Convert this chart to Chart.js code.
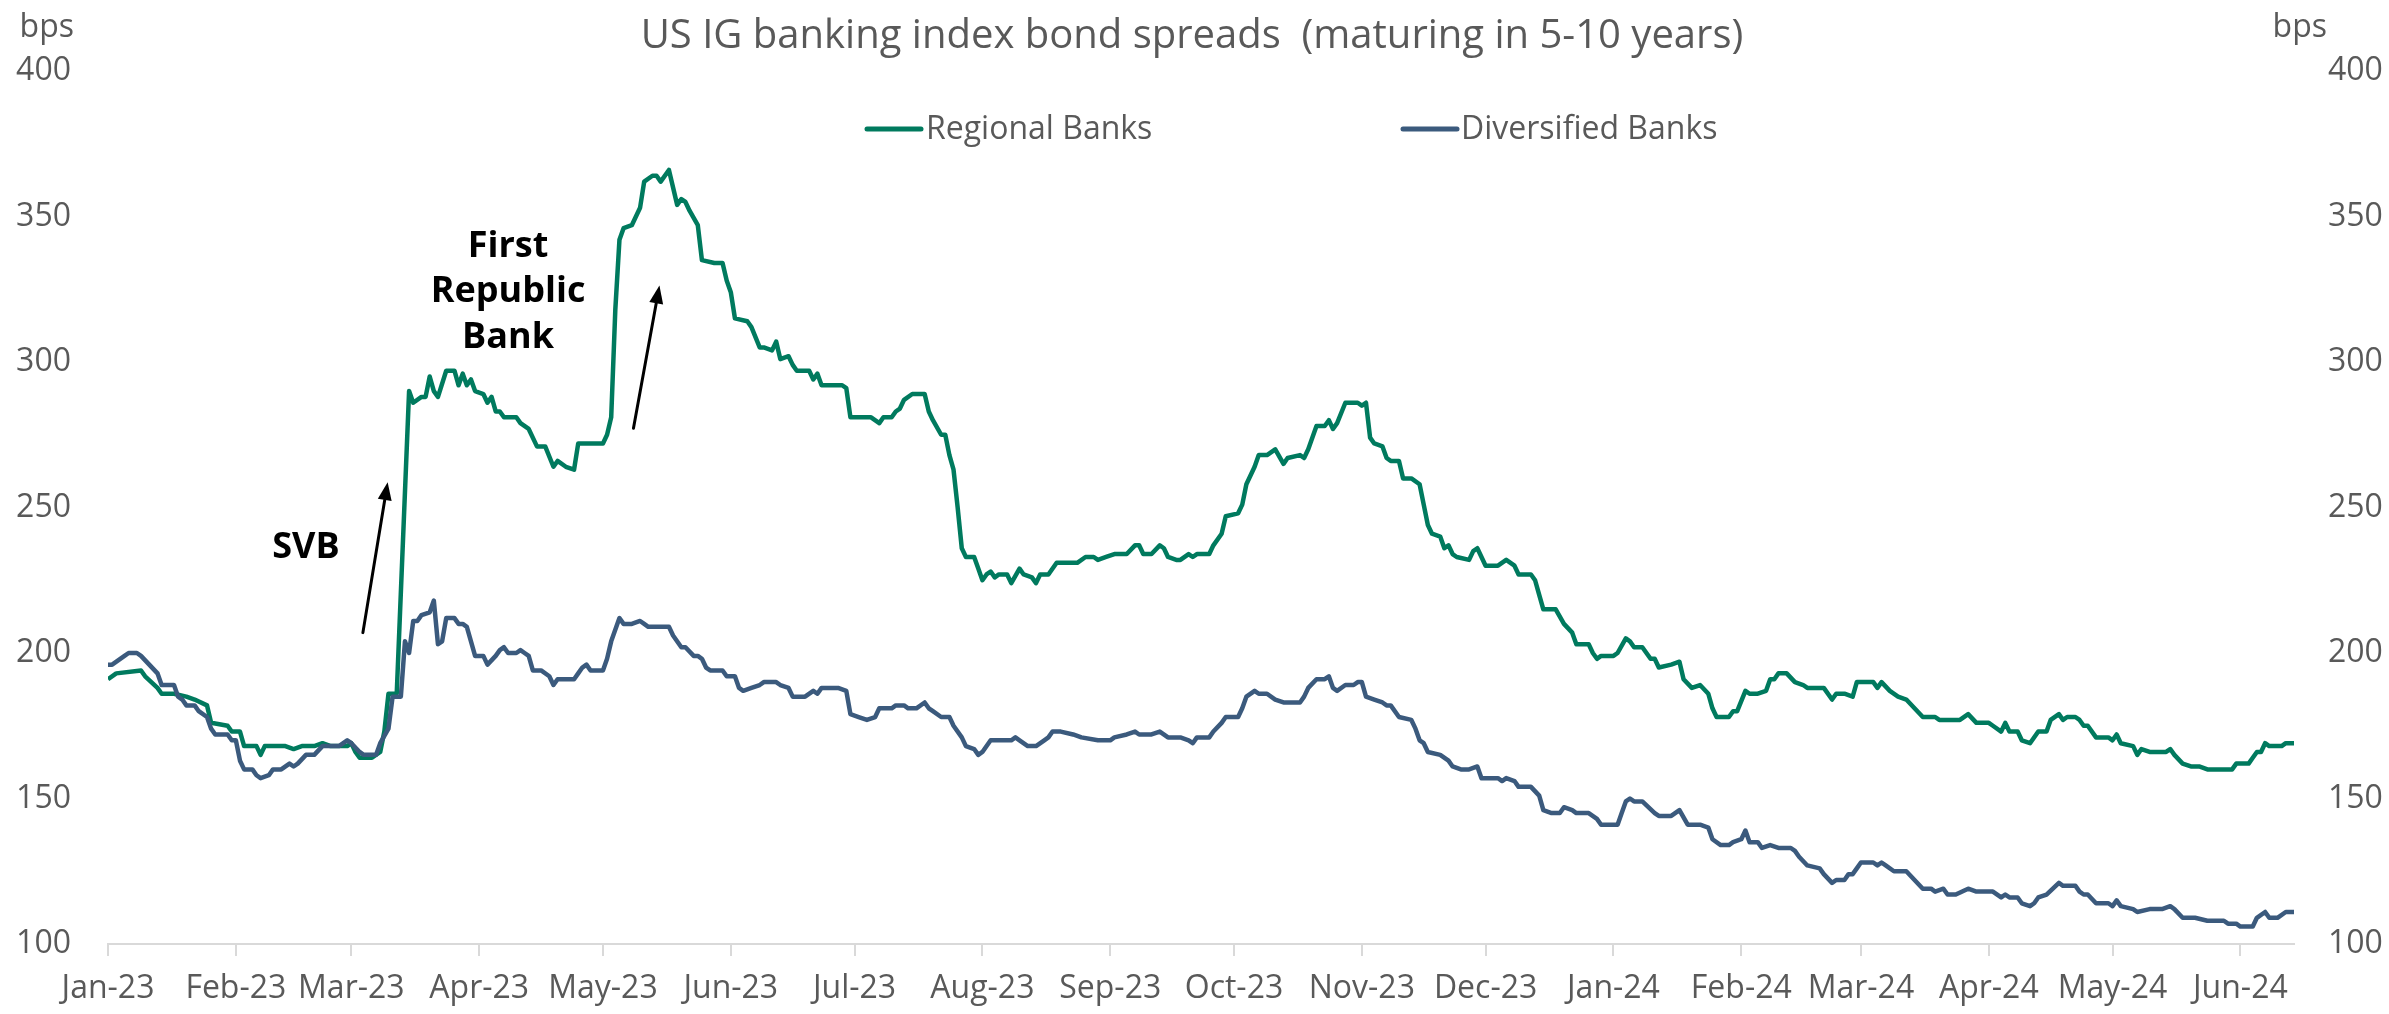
<!DOCTYPE html>
<html><head><meta charset="utf-8">
<script src="https://cdn.jsdelivr.net/npm/chart.js@4.4.0/dist/chart.umd.min.js"></script>
<style>
html,body{margin:0;padding:0;background:#fff;}
#wrap{width:2389px;height:1014px;position:relative;}
canvas{display:block;}
</style></head><body>
<div id="wrap"><canvas id="c" width="2389" height="1014"></canvas></div>
<script>
// ---- DATA (x = days since 2023-01-01) ----
const START_DATE = '2023-01-01';
const tickDates = ['2023-01-01','2023-02-01','2023-03-01','2023-04-01','2023-05-01','2023-06-01','2023-07-01','2023-08-01','2023-09-01','2023-10-01','2023-11-01','2023-12-01','2024-01-01','2024-02-01','2024-03-01','2024-04-01','2024-05-01','2024-06-01'];
const tickLabels = ['Jan-23','Feb-23','Mar-23','Apr-23','May-23','Jun-23','Jul-23','Aug-23','Sep-23','Oct-23','Nov-23','Dec-23','Jan-24','Feb-24','Mar-24','Apr-24','May-24','Jun-24'];
const yTicks = [100,150,200,250,300,350,400];

const regionalDays = [0,2,8,9,12,13,16,19,21,24,25,29,30,32,33,36,37,38,40,43,45,47,50,52,54,58,59,60,61,64,66,67,68,70,73,74,76,77,78,79,80,82,84,85,86,87,88,89,91,92,93,94,95,96,99,100,102,104,106,108,109,111,113,114,116,118,120,121,122,123,124,125,127,128,129,130,132,133,134,136,138,139,140,141,143,144,147,149,150,151,152,155,156,158,159,161,162,163,165,166,167,170,171,172,173,177,178,179,180,185,187,188,190,191,192,193,195,198,199,200,202,203,204,205,206,207,208,210,211,212,213,214,215,216,218,219,221,222,224,225,226,228,230,232,235,237,239,240,242,244,247,249,250,251,253,255,256,257,259,260,262,263,264,267,268,270,271,274,275,276,278,279,281,283,285,286,289,290,291,293,295,296,297,298,300,303,304,305,306,307,309,310,311,313,314,316,318,319,320,321,323,324,325,326,327,330,331,332,334,337,339,341,342,345,346,347,348,351,353,355,356,359,360,361,362,365,366,368,369,370,372,373,374,375,376,379,381,382,384,386,388,389,390,393,394,395,397,398,400,402,403,404,405,407,409,411,412,416,418,419,421,423,424,428,429,430,432,434,436,438,440,443,444,449,451,453,456,457,459,460,461,463,464,466,468,470,471,473,474,475,477,478,479,480,482,485,486,487,488,491,492,493,495,499,500,501,503,505,507,509,511,515,516,519,520,521,522,523,524,527,528,530];
const regionalValues = [191,193,194,192,188,186,186,185,184,182,176,175,173,173,168,168,165,168,168,168,167,168,168,169,168,168,169,166,164,164,166,173,186,186,290,286,288,288,295,290,288,297,297,292,296,292,294,290,289,286,288,283,283,281,281,279,277,271,271,264,266,264,263,272,272,272,272,275,281,318,342,346,347,350,353,362,364,364,362,366,354,356,355,352,347,335,334,334,328,324,315,314,312,305,305,304,307,301,302,299,297,297,294,296,292,292,292,291,281,281,279,281,281,283,284,287,289,289,283,280,275,275,268,263,250,236,233,233,229,225,227,228,226,227,227,224,229,227,226,224,227,227,231,231,231,233,233,232,233,234,234,237,237,234,234,237,236,233,232,232,234,233,234,234,237,241,247,248,251,258,264,268,268,270,265,267,268,267,270,278,278,280,277,279,286,286,285,286,274,272,271,267,266,266,260,260,258,251,244,241,240,236,237,234,233,232,235,236,230,230,232,230,227,227,225,220,215,215,210,207,203,203,200,198,199,199,200,205,204,202,202,200,198,198,195,196,197,191,188,189,186,181,178,178,180,180,187,186,186,187,191,191,193,193,190,189,188,188,184,186,186,185,190,190,188,190,187,185,184,181,178,178,177,177,179,176,176,175,173,176,173,173,170,169,173,173,177,179,177,178,178,177,175,175,171,171,170,172,169,168,165,167,166,166,167,165,162,161,161,160,160,160,162,162,164,166,166,169,168,168,169,169];

const diversifiedDays = [0,1,4,5,7,8,10,12,13,16,17,18,19,21,22,24,25,26,29,30,31,32,33,35,36,37,39,40,42,44,45,46,48,50,52,53,56,58,59,61,62,64,65,66,68,69,71,72,73,74,75,76,78,79,80,81,82,84,85,86,87,89,90,91,92,94,95,96,97,99,100,101,102,103,105,107,108,109,113,114,115,116,117,120,121,122,124,125,127,129,130,131,135,136,137,139,140,142,143,144,145,146,149,150,152,153,154,156,158,159,162,163,165,166,169,171,172,173,177,179,180,182,184,186,187,190,191,193,194,196,198,199,200,202,204,205,207,208,210,211,212,214,218,219,220,221,223,225,227,228,229,231,234,236,240,243,244,247,249,250,253,255,257,260,262,263,264,267,268,270,271,274,275,276,278,279,281,283,285,289,290,291,293,295,296,297,298,300,302,303,304,305,307,309,310,311,313,316,317,318,319,320,323,325,326,328,330,332,333,337,338,339,341,342,345,347,348,350,352,353,355,356,359,361,362,366,367,368,369,370,372,375,376,379,381,383,384,386,388,389,391,393,394,396,397,398,400,401,403,405,408,409,410,412,415,416,418,419,421,422,423,424,425,428,429,430,431,433,436,438,440,442,443,445,446,448,451,453,457,459,460,461,463,464,466,467,468,470,473,474,477,478,479,480,482,485,486,487,488,491,492,495,498,500,501,503,506,509,513,514,516,517,520,521,523,524,526,528,530];
const diversifiedValues = [196,196,199,200,200,199,196,193,189,189,185,184,182,182,180,178,174,172,172,170,170,163,160,160,158,157,158,160,160,162,161,162,165,165,168,168,168,170,169,166,165,165,165,169,174,185,185,204,200,211,211,213,214,218,203,204,212,212,210,210,209,199,199,199,196,199,201,202,200,200,201,200,199,194,194,192,189,191,191,193,195,196,194,194,198,204,212,210,210,211,210,209,209,209,206,202,202,199,199,198,195,194,194,192,192,188,187,188,189,190,190,189,188,185,185,187,186,188,188,187,179,178,177,178,181,181,182,182,181,181,183,181,180,178,178,175,171,168,167,165,166,170,170,170,171,170,168,168,170,171,173,173,172,171,170,170,171,172,173,172,172,173,171,171,170,169,171,171,173,176,178,178,181,185,187,186,186,184,183,183,185,188,191,191,192,188,187,189,189,190,190,185,184,183,182,182,178,177,174,170,169,166,165,163,161,160,160,161,157,157,156,157,156,154,154,151,146,145,145,147,146,145,145,143,141,141,145,149,150,149,149,145,144,144,146,141,141,141,140,136,134,134,135,136,139,135,135,133,134,133,133,132,130,127,126,124,121,122,122,124,124,126,128,128,127,128,127,125,125,122,119,119,118,119,117,117,119,118,118,116,117,116,116,114,113,114,116,117,121,120,120,118,117,117,114,114,113,115,113,112,111,112,112,113,112,109,109,108,108,107,107,106,106,109,111,109,109,111,111];

const seriesNames = ['Regional Banks','Diversified Banks'];
const titleText = 'US IG banking index bond spreads  (maturing in 5-10 years)';
const unitLabel = 'bps';
// annotation anchors in data units (day, bps)
const svbLabel = {text:'SVB', day:48, value:236};
const svbArrow = {fromDay:61.8, fromValue:207, toDay:67.8, toValue:258.7};
const frbLines = ['First','Republic','Bank'];
const frbLabel = {day:97, values:[339.5,324,308.5]};
const frbArrow = {fromDay:127.4, fromValue:277.2, toDay:133.7, toValue:326.3};

// ---- helpers ----
const DAY_MS = 86400000;
const base = Date.parse(START_DATE);
const tickDays = tickDates.map(d => Math.round((Date.parse(d) - base) / DAY_MS));
const lastDay = regionalDays[regionalDays.length - 1];
const toPts = (xs, ys) => xs.slice(0, Math.min(xs.length, ys.length)).map((x, i) => ({x: x, y: ys[i]}));

const GREEN = '#007a5e';
const BLUE = '#3b5a7d';
const GREY = '#595959';
const FONT = '"Open Sans", "Segoe UI", sans-serif';

function drawArrow(ctx, x1, y1, x2, y2) {
  const ang = Math.atan2(y2 - y1, x2 - x1);
  const hl = 18, hw = 7;
  const bx = x2 - hl * Math.cos(ang), by = y2 - hl * Math.sin(ang);
  ctx.save();
  ctx.strokeStyle = '#000'; ctx.fillStyle = '#000'; ctx.lineWidth = 3;
  ctx.beginPath(); ctx.moveTo(x1, y1); ctx.lineTo(bx, by); ctx.stroke();
  ctx.beginPath();
  ctx.moveTo(x2, y2);
  ctx.lineTo(bx + hw * Math.sin(ang), by - hw * Math.cos(ang));
  ctx.lineTo(bx - hw * Math.sin(ang), by + hw * Math.cos(ang));
  ctx.closePath(); ctx.fill();
  ctx.restore();
}

const decor = {
  id: 'decor',
  afterDraw(chart) {
    const ctx = chart.ctx, xs = chart.scales.x, ys = chart.scales.y;
    ctx.save();
    // title
    ctx.fillStyle = GREY;
    ctx.font = '40px ' + FONT;
    ctx.textAlign = 'center'; ctx.textBaseline = 'alphabetic';
    ctx.fillText(titleText, 1192, 48);
    // unit labels
    ctx.font = '32px ' + FONT;
    ctx.textAlign = 'right';
    ctx.fillText(unitLabel, 74, 37);
    ctx.fillText(unitLabel, 2327, 37);
    // legend
    const legendItems = [
      {name: seriesNames[0], color: GREEN, x0: 867, x1: 921, tx: 926},
      {name: seriesNames[1], color: BLUE, x0: 1403, x1: 1457, tx: 1461}
    ];
    ctx.textAlign = 'left'; ctx.textBaseline = 'middle';
    legendItems.forEach(it => {
      ctx.strokeStyle = it.color; ctx.lineWidth = 5; ctx.lineCap = 'round';
      ctx.beginPath(); ctx.moveTo(it.x0, 129); ctx.lineTo(it.x1, 129); ctx.stroke();
      ctx.fillStyle = GREY;
      ctx.fillText(it.name, it.tx, 130);
    });
    // annotations
    ctx.fillStyle = '#000';
    ctx.textAlign = 'center'; ctx.textBaseline = 'middle';
    ctx.font = 'bold 36px ' + FONT;
    ctx.fillText(svbLabel.text, xs.getPixelForValue(svbLabel.day), ys.getPixelForValue(svbLabel.value));
    frbLines.forEach((t, i) => {
      ctx.fillText(t, xs.getPixelForValue(frbLabel.day), ys.getPixelForValue(frbLabel.values[i]));
    });
    drawArrow(ctx, xs.getPixelForValue(svbArrow.fromDay), ys.getPixelForValue(svbArrow.fromValue),
                   xs.getPixelForValue(svbArrow.toDay), ys.getPixelForValue(svbArrow.toValue));
    drawArrow(ctx, xs.getPixelForValue(frbArrow.fromDay), ys.getPixelForValue(frbArrow.fromValue),
                   xs.getPixelForValue(frbArrow.toDay), ys.getPixelForValue(frbArrow.toValue));
    ctx.restore();
  }
};

const tickFont = {family: FONT, size: 32};

new Chart(document.getElementById('c').getContext('2d'), {
  type: 'line',
  data: {
    datasets: [
      {label: seriesNames[0], data: toPts(regionalDays, regionalValues), borderColor: GREEN, backgroundColor: GREEN,
       borderWidth: 4.5, pointRadius: 0, tension: 0, order: 1, yAxisID: 'y', borderJoinStyle: 'round'},
      {label: seriesNames[1], data: toPts(diversifiedDays, diversifiedValues), borderColor: BLUE, backgroundColor: BLUE,
       borderWidth: 4.5, pointRadius: 0, tension: 0, order: 0, yAxisID: 'y', borderJoinStyle: 'round'}
    ]
  },
  options: {
    responsive: false, animation: false, devicePixelRatio: 1,
    layout: {padding: {top: 71, left: 0, right: 0, bottom: 0}},
    plugins: {legend: {display: false}, title: {display: false}, tooltip: {enabled: false}},
    scales: {
      x: {
        type: 'linear', min: 0, max: lastDay,
        afterBuildTicks(s) { s.ticks = tickDays.map(v => ({value: v})); },
        afterFit(s) { s.height = 70; },
        ticks: {autoSkip: false, maxRotation: 0, minRotation: 0, color: GREY, font: tickFont, padding: 14,
                callback: (v, i) => tickLabels[i]},
        grid: {display: true, drawOnChartArea: false, drawTicks: true, tickLength: 12, color: '#d9d9d9', lineWidth: 2},
        border: {display: true, color: '#d9d9d9', width: 2}
      },
      y: {
        position: 'left', min: 100, max: 400,
        afterBuildTicks(s) { s.ticks = yTicks.map(v => ({value: v})); },
        afterFit(s) { s.width = 108; },
        ticks: {color: GREY, font: tickFont, padding: 37},
        grid: {display: false, drawTicks: false}, border: {display: false}
      },
      y2: {
        position: 'right', min: 100, max: 400,
        afterBuildTicks(s) { s.ticks = yTicks.map(v => ({value: v})); },
        afterFit(s) { s.width = 95; },
        ticks: {color: GREY, font: tickFont, padding: 34},
        grid: {display: false, drawTicks: false}, border: {display: false}
      }
    }
  },
  plugins: [decor]
});
</script>
</body></html>
